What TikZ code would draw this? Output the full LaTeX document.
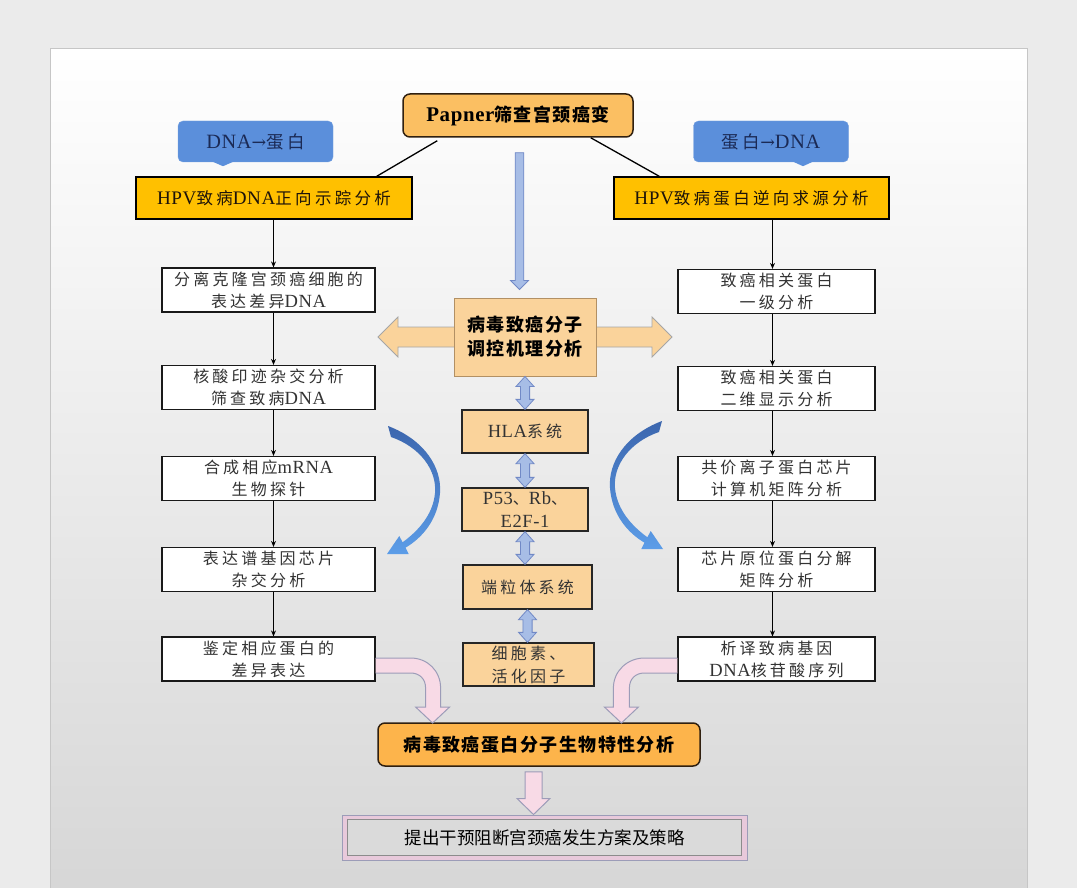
\documentclass[tikz,border=0pt]{standalone}
\usepackage{fontspec}
\setmainfont{Liberation Serif}
\newfontfamily\cjk{Noto Sans CJK SC}
\newfontfamily\cjksp[LetterSpace=20]{Noto Sans CJK SC}
\newfontfamily\cjkbsp[LetterSpace=8]{Noto Sans CJK SC}
\newfontfamily\ensp[LetterSpace=3,Scale=1.16]{Liberation Serif}
\newfontfamily\arrowfont{DejaVu Serif}
\newcommand\en[1]{{\ensp #1}}
\newcommand\rarr{{\arrowfont →}}
\usetikzlibrary{calc,arrows.meta}
\pgfdeclarelayer{bg}
\pgfdeclarelayer{back}
\pgfsetlayers{bg,back,main}
\definecolor{pagebg}{HTML}{EBEBEB}
\definecolor{pagemid}{HTML}{EEEEEE}
\definecolor{pagebot}{HTML}{D6D6D6}
\definecolor{gold}{HTML}{FFC000}
\definecolor{orng}{HTML}{FBBF62}
\definecolor{orngdk}{HTML}{FDB44B}
\definecolor{lorng}{HTML}{FAD39B}
\definecolor{callblue}{HTML}{5B8FDB}
\definecolor{navy}{HTML}{1B2A55}
\definecolor{lblue}{HTML}{A7BDE6}
\definecolor{lbluedk}{HTML}{7189C6}
\definecolor{pinkf}{HTML}{F8DAE6}
\definecolor{pinkb}{HTML}{9C9CB8}
\definecolor{pinkbox}{HTML}{E8C9DB}
\definecolor{innerg}{HTML}{DADADA}
\definecolor{curvetop}{HTML}{3C66AE}
\definecolor{curvebot}{HTML}{5C9DE8}
\definecolor{frame}{HTML}{C6C6C6}
\tikzset{
 arr/.style={draw=black, line width=0.9pt, -{Stealth[length=6pt,width=5pt]}},
 wbox/.style={draw=black!90, line width=1.2pt, fill=white, minimum height=44pt, inner sep=0pt, align=center, text=black!80, font=\fontsize{16}{22}\selectfont\cjksp},
 lbox/.style={wbox, minimum width=213pt},
 rbox/.style={wbox, minimum width=197pt},
 hpv/.style={draw=black, line width=1.3pt, fill=gold, minimum width=276pt, minimum height=42pt, inner sep=0pt, text=black!85!brown, font=\fontsize{16.5}{20}\selectfont\cjksp},
 callout/.style={rounded corners=5pt, fill=callblue, draw=callblue!85!white, minimum width=155pt, minimum height=41pt, inner sep=0pt, text=navy, font=\fontsize{17.5}{20}\selectfont\cjksp},
 cbox/.style={draw=black!85, line width=1.3pt, fill=lorng, minimum height=43pt, inner sep=0pt, align=center, text=black!80, font=\fontsize{16}{23}\selectfont\cjksp},
 boldbox/.style={rounded corners=7pt, draw=black!75!brown, line width=1.5pt, inner sep=0pt, align=center, text=black, font=\fontsize{18}{24}\selectfont\cjkbsp\bfseries},
 bluearr/.style={fill=lblue, draw=lbluedk, line width=0.8pt},
 pinkarr/.style={fill=pinkf, draw=pinkb, line width=1pt},
}
\newcommand\vdarrow[2]{\draw[bluearr] let \p1=(#1.south), \p2=(#2.north) in
  (\x1,\y1) -- (\x1+9pt,\y1-10pt) -- (\x1+4.6pt,\y1-10pt) -- (\x1+4.6pt,\y2+10pt) -- (\x1+9pt,\y2+10pt) -- (\x1,\y2)
  -- (\x1-9pt,\y2+10pt) -- (\x1-4.6pt,\y2+10pt) -- (\x1-4.6pt,\y1-10pt) -- (\x1-9pt,\y1-10pt) -- cycle;}
\begin{document}
\begin{tikzpicture}[x=1pt,y=-1pt]
\useasboundingbox (0,0) rectangle (1077,888);
\begin{pgfonlayer}{bg}
 \fill[pagebg] (0,0) rectangle (1077,888);
 \shade[top color=white, middle color=pagemid, bottom color=pagebot] (50,49) rectangle (1027,900);
 \draw[frame, line width=1pt] (50,900) -- (50,49) -- (1027,49) -- (1027,900);
\end{pgfonlayer}

% top
\node[boldbox, fill=orng, minimum width=230pt, minimum height=43pt] (pap) at (518,115.5) {\en{Papner}筛查宫颈癌变};
\node[callout] (cl) at (255.5,141.5) {\en{DNA}\rarr 蛋白};
\fill[callblue] ($(cl.south)+(-44,-1)$) -- ($(cl.south)+(-21,-1)$) -- ($(cl.south)+(-32.5,4)$) -- cycle;
\node[callout] (cr) at (771,141.5) {蛋白\rarr\en{DNA}};
\fill[callblue] ($(cr.south)+(21,-1)$) -- ($(cr.south)+(43,-1)$) -- ($(cr.south)+(32,4)$) -- cycle;
\node[hpv] (hpvL) at (274,198) {\en{HPV}致病\en{DNA}正向示踪分析};
\node[hpv, minimum width=275pt] (hpvR) at (751.5,198) {\en{HPV}致病蛋白逆向求源分析};
\draw[line width=1.3pt] ($(pap.south west)+(35,3)$) -- ($(hpvL.north east)+(-36,0)$);
\draw[line width=1.3pt] ($(pap.south east)+(-43,0)$) -- ($(hpvR.north west)+(46,0)$);

% center
\node[boldbox, rounded corners=0pt, fill=lorng, draw=black!30!lorng!80!brown, line width=1pt, minimum width=142pt, minimum height=78pt] (cen) at (525,337) {病毒致癌分子\\调控机理分析};
\draw[bluearr] let \p1=(pap.south), \p2=(cen.north) in
  (\x1-2.8pt,\y1-15pt) -- (\x1+5.8pt,\y1-15pt) -- (\x1+5.8pt,\y2+17pt) -- (\x1+10.5pt,\y2+17pt) -- (\x1+1.5pt,\y2+8pt)
  -- (\x1-7.5pt,\y2+17pt) -- (\x1-2.8pt,\y2+17pt) -- cycle;
\begin{pgfonlayer}{back}
\draw[fill=lorng, draw=black!35, line width=0.8pt] let \p1=(cen.center) in
  (\x1-147pt,\y1) -- (\x1-127pt,\y1+20pt) -- (\x1-127pt,\y1+10pt) -- (\x1+127pt,\y1+10pt) -- (\x1+127pt,\y1+20pt)
  -- (\x1+147pt,\y1) -- (\x1+127pt,\y1-20pt) -- (\x1+127pt,\y1-10pt) -- (\x1-127pt,\y1-10pt) -- (\x1-127pt,\y1-20pt) -- cycle;
\end{pgfonlayer}

\node[cbox, minimum width=126pt] (hla) at (525,431.5) {\en{HLA}系统};
\node[cbox, minimum width=126pt] (p53) at (525,509.5) {\en{P53}、\en{Rb}、\\\en{E2F-1}};
\node[cbox, minimum width=129pt, minimum height=44pt] (dl) at (527.5,587) {端粒体系统};
\node[cbox, minimum width=131pt] (xb) at (528.5,664.5) {细胞素、\\活化因子};
\vdarrow{cen}{hla}
\vdarrow{hla}{p53}
\vdarrow{p53}{dl}
\vdarrow{dl}{xb}

% left column
\coordinate (lx) at (273.5,0);
\node[lbox] (L1) at (268.5,290) {分离克隆宫颈癌细胞的\\表达差异\en{DNA}};
\node[lbox] (L2) at (268.5,387.5) {核酸印迹杂交分析\\筛查致病\en{DNA}};
\node[lbox] (L3) at (268.5,478.5) {合成相应\en{mRNA}\\生物探针};
\node[lbox] (L4) at (268.5,569.5) {表达谱基因芯片\\杂交分析};
\node[lbox] (L5) at (268.5,659) {鉴定相应蛋白的\\差异表达};
\draw[arr] (hpvL.south -| lx) -- (L1.north -| lx);
\draw[arr] (L1.south -| lx) -- (L2.north -| lx);
\draw[arr] (L2.south -| lx) -- (L3.north -| lx);
\draw[arr] (L3.south -| lx) -- (L4.north -| lx);
\draw[arr] (L4.south -| lx) -- (L5.north -| lx);

% right column
\coordinate (rx) at (772.5,0);
\node[rbox] (R1) at (776.5,291.5) {致癌相关蛋白\\一级分析};
\node[rbox] (R2) at (776.5,388.5) {致癌相关蛋白\\二维显示分析};
\node[rbox] (R3) at (776.5,478.5) {共价离子蛋白芯片\\计算机矩阵分析};
\node[rbox] (R4) at (776.5,569.5) {芯片原位蛋白分解\\矩阵分析};
\node[rbox] (R5) at (776.5,659) {析译致病基因\\\en{DNA}核苷酸序列};
\draw[arr] (hpvR.south -| rx) -- (R1.north -| rx);
\draw[arr] (R1.south -| rx) -- (R2.north -| rx);
\draw[arr] (R2.south -| rx) -- (R3.north -| rx);
\draw[arr] (R3.south -| rx) -- (R4.north -| rx);
\draw[arr] (R4.south -| rx) -- (R5.north -| rx);

% curved blue arrows
\shade[top color=curvetop, bottom color=curvebot]
  (388,426) .. controls (425,440) and (442,468) .. (440,493) .. controls (438,520) and (422,538) .. (405.5,547.7)
  -- (408.7,554) -- (387,554) -- (399.3,536) -- (402.6,542.3) .. controls (418,531) and (433,515) .. (435,493)
  .. controls (437,470) and (420,447) .. (391,437) -- cycle;
\begin{scope}[shift={(1050,-5)}, xscale=-1]
\shade[top color=curvetop, bottom color=curvebot]
  (388,426) .. controls (425,440) and (442,468) .. (440,493) .. controls (438,520) and (422,538) .. (405.5,547.7)
  -- (408.7,554) -- (387,554) -- (399.3,536) -- (402.6,542.3) .. controls (418,531) and (433,515) .. (435,493)
  .. controls (437,470) and (420,447) .. (391,437) -- cycle;
\end{scope}

% bottom
\node[boldbox, fill=orngdk, minimum width=322pt, minimum height=43pt] (bot) at (539,744.5) {病毒致癌蛋白分子生物特性分析};
\begin{scope}[shift={(L5.east)}]
\draw[pinkarr] (0,-1) -- (35,-1) .. controls (52,-1) and (65,12) .. (65,29) -- (65,48) -- (74,48) -- (57,64)
  -- (40,48) -- (50,48) -- (50,29) .. controls (50,20) and (44,14) .. (35,14) -- (0,14);
\end{scope}
\begin{scope}[shift={(R5.west)}]
\draw[pinkarr] (0,-1) -- (-33,-1) .. controls (-50,-1) and (-64,12) .. (-64,29) -- (-64,48) -- (-73,48) -- (-56,64)
  -- (-39,48) -- (-48,48) -- (-48,29) .. controls (-48,20) and (-42,14) .. (-33,14) -- (0,14);
\end{scope}

\node[fill=pinkbox, draw=pinkb, line width=1pt, minimum width=405pt, minimum height=45pt, inner sep=0pt] (fin) at (544.5,837.5) {};
\draw[fill=innerg, draw=black!45, line width=1pt] ($(fin.north west)+(6,5)$) rectangle ($(fin.south east)+(-6,-5)$);
\node[font=\fontsize{17.5}{20}\selectfont\cjk, text=black, inner sep=0pt] (fint) at (fin.center) {提出干预阻断宫颈癌发生方案及策略};
\draw[pinkarr] let \p1=(bot.south), \p2=(fin.north) in
  (\x1-14pt,\y1-5pt) -- (\x1+3pt,\y1-5pt) -- (\x1+3pt,\y2+16pt) -- (\x1+11pt,\y2+16pt) -- (\x1-5.5pt,\y2)
  -- (\x1-22pt,\y2+16pt) -- (\x1-14pt,\y2+16pt) -- cycle;
\end{tikzpicture}
\end{document}
